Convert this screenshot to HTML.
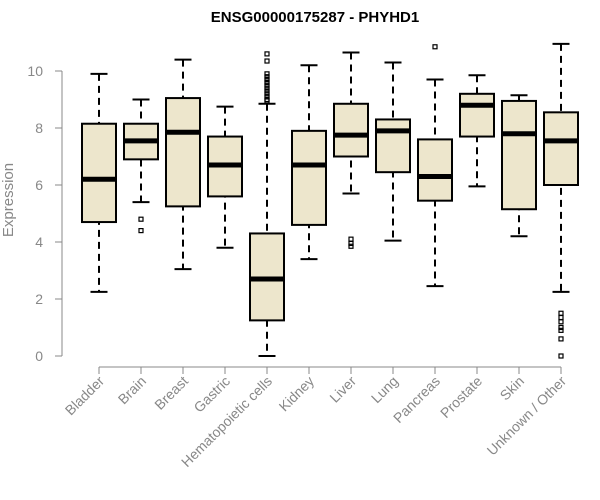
<!DOCTYPE html>
<html><head><meta charset="utf-8"><style>
body{margin:0;background:#fff;}
svg{display:block;font-family:"Liberation Sans",sans-serif;}
</style></head><body>
<svg id="chart" width="600" height="500">
<text x="315" y="22" text-anchor="middle" font-size="15" font-weight="bold" fill="#000">ENSG00000175287 - PHYHD1</text>
<text transform="translate(13,200) rotate(-90)" text-anchor="middle" font-size="15" fill="#888">Expression</text>
<g id="plot"></g>
</svg>
<script>
const categories=["Bladder","Brain","Breast","Gastric","Hematopoietic cells","Kidney","Liver","Lung","Pancreas","Prostate","Skin","Unknown / Other"];
const lows=[2.25,5.4,3.05,3.8,0.0,3.4,5.7,4.05,2.45,5.95,4.2,2.25];
const q1s=[4.7,6.9,5.25,5.6,1.25,4.6,7.0,6.45,5.45,7.7,5.15,6.0];
const medians=[6.2,7.55,7.85,6.7,2.7,6.7,7.75,7.9,6.3,8.8,7.8,7.55];
const q3s=[8.15,8.15,9.05,7.7,4.3,7.9,8.85,8.3,7.6,9.2,8.95,8.55];
const highs=[9.9,9.0,10.4,8.75,8.85,10.2,10.65,10.3,9.7,9.85,9.15,10.95];
const outliers=[[],[4.8,4.4],[],[],[10.6,10.35,9.9,9.8,9.7,9.6,9.5,9.4,9.3,9.2,9.1,9.0,8.95],[],[4.1,3.95,3.85],[],[10.85],[],[],[1.5,1.35,1.2,1.0,0.9,0.6,0.0]];
const yTicks=[0,2,4,6,8,10];
const NS="http://www.w3.org/2000/svg";
const g=document.getElementById('plot');
const y=v=>356-v*28.5;
const x=i=>99+i*42;
function mk(t,a){const e=document.createElementNS(NS,t);for(const k in a)e.setAttribute(k,a[k]);g.appendChild(e);return e;}
let ax=mk('line',{x1:62,x2:62,y1:y(0),y2:y(10),stroke:'#888'});


yTicks.forEach(t=>{
 let l=mk('line',{x1:55,x2:62,y1:y(t),y2:y(t),stroke:'#888'});
 
 
 let tx=mk('text',{x:43,y:y(t)+5,'text-anchor':'end','font-size':14,fill:'#888'});
 tx.textContent=t;
 
 
});
let xa=mk('line',{x1:x(0),x2:x(11),y1:367,y2:367,stroke:'#888'});


categories.forEach((c,i)=>{
 const cx=x(i),w=17;
 let t=mk('line',{x1:cx,x2:cx,y1:367,y2:374,stroke:'#888'});
 
 
 let lb=mk('text',{x:cx+6,y:382,'text-anchor':'end','font-size':14,fill:'#888',transform:`rotate(-45 ${cx+6} 382)`});
 lb.textContent=c;
 
 
 let wl=mk('line',{x1:cx,x2:cx,y1:y(highs[i]),y2:y(lows[i]),stroke:'#000','stroke-width':2,'stroke-dasharray':'7,5'});
 
 
 [lows[i],highs[i]].forEach(v=>{
  let cap=mk('line',{x1:cx-8.5,x2:cx+8.5,y1:y(v),y2:y(v),stroke:'#000','stroke-width':2});
  
  
 });
 let b=mk('rect',{x:cx-w,y:y(q3s[i]),width:2*w,height:y(q1s[i])-y(q3s[i]),fill:'#ede6cc',stroke:'#000','stroke-width':2});
 
 
 let m=mk('line',{x1:cx-w,x2:cx+w,y1:y(medians[i]),y2:y(medians[i]),stroke:'#000','stroke-width':5});
 
 
 outliers[i].forEach(v=>{
  let o=mk('rect',{x:cx-2,y:y(v)-2,width:4,height:4,fill:'none',stroke:'#000','stroke-width':1.2});
  
  
 });
});
</script>
</body></html>
